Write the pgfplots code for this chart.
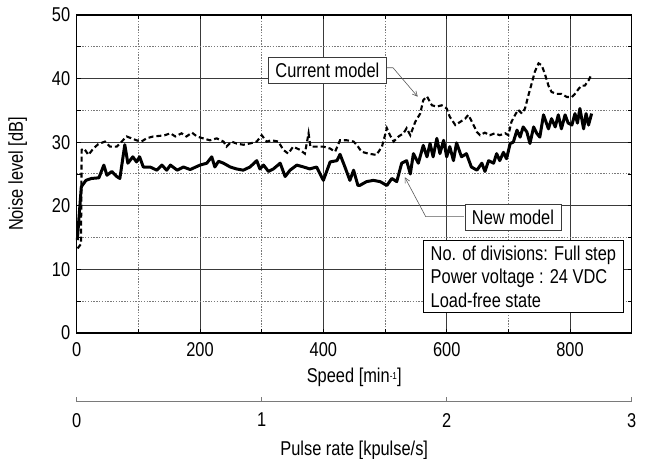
\documentclass[border=0pt]{standalone}
\usepackage{fontspec}
\setmainfont{Liberation Sans}[FakeStretch=0.82]
\usepackage{pgfplots}
\pgfplotsset{compat=1.18}
\usetikzlibrary{arrows.meta}
\newcommand\cf{\fontsize{20bp}{24bp}\selectfont}
\definecolor{gridmaj}{HTML}{3A3A3A}
\definecolor{gridmin}{HTML}{7A7A7A}
\definecolor{annot}{HTML}{5A5A5A}
\begin{document}
\begin{tikzpicture}[font=\cf]
\path[use as bounding box] (-76.7bp,-126bp) rectangle (571.3bp,333bp);
\begin{axis}[
  at={(0,0)}, anchor=south west,
  scale only axis, width=555bp, height=318bp,
  xmin=0, xmax=900, ymin=0, ymax=50,
  xtick={0,200,400,600,800},
  ytick={0,10,20,30,40,50},
  minor xtick={100,300,500,700},
  minor ytick={5,15,25,35,45},
  grid=both,
  major grid style={solid, color=gridmaj, line width=0.9bp},
  minor grid style={color=gridmin, line width=1bp, dash pattern=on 1.4bp off 1.4bp},
  axis line style={black, line width=1.1bp},
  tick align=inside,
  major tick length=4bp, minor tick length=4bp,
  tick style={color=black, line width=0.8bp},
  /pgf/number format/assume math mode=true,
  tick label style={font=\cf},
  xticklabel style={yshift=-6bp},
  yticklabel style={xshift=-3bp},
  xlabel={Speed [min{\fontsize{10bp}{10bp}\selectfont\raisebox{0.55ex}{-1}}]},
  ylabel={Noise level [dB]},
  xlabel style={at={(rel axis cs:0.5,-0.1541)}, anchor=base, font=\cf},
  ylabel style={at={(rel axis cs:-0.1063,0.5)}, anchor=center, font=\cf},
  clip=false,
]
% Current model (dashed)
\addplot[black, line width=2.1bp, dash pattern=on 5bp off 3bp] coordinates {
(1.5,13.3) (7,14) (8,28.8) (12,29.0) (19,28.0) (27,29.0) (35,29.7) (46,30.1) (54,29.3) (65,29.3) (73,30.1) (81,30.9) (89,30.6) (97,30.3) (105,30.1) (113,30.6) (124,30.9) (135,31.0) (143,31.1) (152,31.4) (160,30.9) (170,31.4) (178,30.9) (187,31.5) (195,30.9) (205,30.6) (216,30.3) (227,30.6) (238,30.1) (243,29.3) (251,30.1) (259,29.8) (270,29.6) (281,29.8) (292,30.1) (300,31.1) (308,30.1) (316,30.3) (327,30.1) (335,28.8) (343,28.2) (351,29.3) (362,28.8) (370,28.2) (376,31.4) (379,29.3) (389,29.3) (400,29.3) (411,29.0) (419,28.5) (427,30.3) (438,30.3) (449,30.1) (454,29.6) (462,28.5) (473,28.2) (486,28.0) (495,29.3) (503,32.2) (508,31.1) (514,30.1) (522,30.9) (530,31.4) (535,32.2) (541,31.1) (549,33.2) (557,34.5) (562,36.6) (568,37.2) (576,35.8) (584,35.6) (592,35.8) (600,35.3) (605,34.0) (614,32.7) (622,33.2) (630,33.7) (635,34.3) (641,33.2) (649,31.6) (654,31.1) (662,31.5) (670,31.1) (678,31.4) (686,31.1) (695,31.4) (700,31.1) (705,33.2) (711,34.3) (716,35.1) (722,34.5) (727,35.3) (732,37.2) (738,39.3) (743,41.1) (749,42.4) (754,42.1) (759,40.8) (765,38.9) (770,37.9) (778,37.6) (786,37.6) (795,37.1) (803,37.1) (808,37.6) (814,38.4) (819,38.9) (824,38.9) (830,39.7) (834,40.5)
};
% New model (solid)
\addplot[black, line width=3bp, line join=round] coordinates {
(1,14.6) (7.5,23) (15,24) (24,24.3) (36,24.4) (44,26.4) (49,24.8) (57,25.4) (65,24.6) (70,24.3) (78,29.6) (83,26.7) (91,27.7) (97,26.9) (102,27.7) (108,26.1) (119,26.1) (130,25.6) (138,26.4) (146,25.6) (152,26.4) (163,25.6) (173,26.1) (184,25.7) (200,26.4) (211,26.7) (219,27.7) (224,26.1) (230,27.0) (238,26.7) (249,26.1) (259,25.8) (270,25.6) (281,26.1) (292,27.1) (297,25.8) (303,26.4) (311,25.4) (319,25.8) (330,26.7) (338,24.6) (346,25.6) (357,26.4) (368,26.1) (378,25.8) (389,26.1) (400,24.0) (411,26.9) (422,27.1) (427,28.1) (435,26.1) (443,24.0) (449,25.6) (456,23.2) (459,23.2) (470,23.8) (481,24.0) (492,23.8) (503,23.2) (511,24.3) (519,23.8) (527,26.7) (535,27.1) (541,25.0) (546,28.2) (554,26.7) (562,29.5) (568,27.7) (573,29.8) (578,27.7) (584,30.6) (589,28.2) (595,30.3) (600,27.7) (605,29.3) (611,27.1) (616,29.9) (624,27.7) (632,28.2) (640,26.1) (649,25.6) (657,26.7) (662,25.4) (668,27.1) (676,26.7) (681,28.2) (686,27.1) (692,28.4) (697,27.4) (703,29.8) (708,30.0) (714,31.9) (719,30.8) (724,32.4) (730,31.6) (735,29.8) (741,32.4) (746,31.4) (751,30.8) (757,34.3) (765,32.1) (770,33.7) (776,32.4) (781,34.3) (786,32.1) (792,34.3) (797,33.0) (803,32.7) (808,34.5) (812,33.0) (816,35.3) (822,32.1) (826,34.5) (830,32.7) (835,34.5)
};
% annotations
\draw[annot, line width=0.6bp, -{Straight Barb[length=5bp,width=5bp]}] (axis cs:503,41.7) -- (axis cs:513,41.7) -- (axis cs:553,37.15);
\node[draw=gridmaj, fill=white, line width=0.8bp, inner xsep=7bp, inner ysep=0bp, minimum height=26bp, anchor=center] at (axis cs:406.5,41.35) {Current model};
\draw[annot, line width=0.6bp, -{Straight Barb[length=5bp,width=5bp]}] (axis cs:628,18.3) -- (axis cs:566,18.3) -- (axis cs:532,24.5);
\node[draw=gridmaj, fill=white, line width=0.8bp, inner xsep=7bp, inner ysep=0bp, minimum height=26bp, anchor=center] at (axis cs:707.5,18.15) {New model};
\node[draw=black, fill=white, line width=0.9bp, align=left, anchor=north west, inner xsep=7bp, inner ysep=5bp, font=\fontsize{20bp}{23.3bp}\selectfont] at (axis cs:562,14.55) {No. of divisions: Full step\\Power voltage : 24 VDC\\Load-free state};
\end{axis}
\begin{axis}[
  at={(0bp,-68.7bp)}, anchor=south west,
  scale only axis, width=555bp, height=10bp,
  xmin=0, xmax=3, ymin=0, ymax=1,
  axis x line=bottom, hide y axis,
  x axis line style={-},
  every outer x axis line/.append style={-},
  axis line style={color=gridmin, line width=1.2bp},
  xtick={0,1,2,3},
  tick align=inside,
  major tick length=5bp,
  tick style={color=gridmin, line width=1bp},
  /pgf/number format/assume math mode=true,
  tick label style={font=\cf, text=black},
  xticklabel style={yshift=-8bp},
  xlabel={Pulse rate [kpulse/s]},
  xlabel style={at={(rel axis cs:0.5,-5.4)}, anchor=base, font=\cf},
  clip=false,
]
\end{axis}
\end{tikzpicture}
\end{document}
